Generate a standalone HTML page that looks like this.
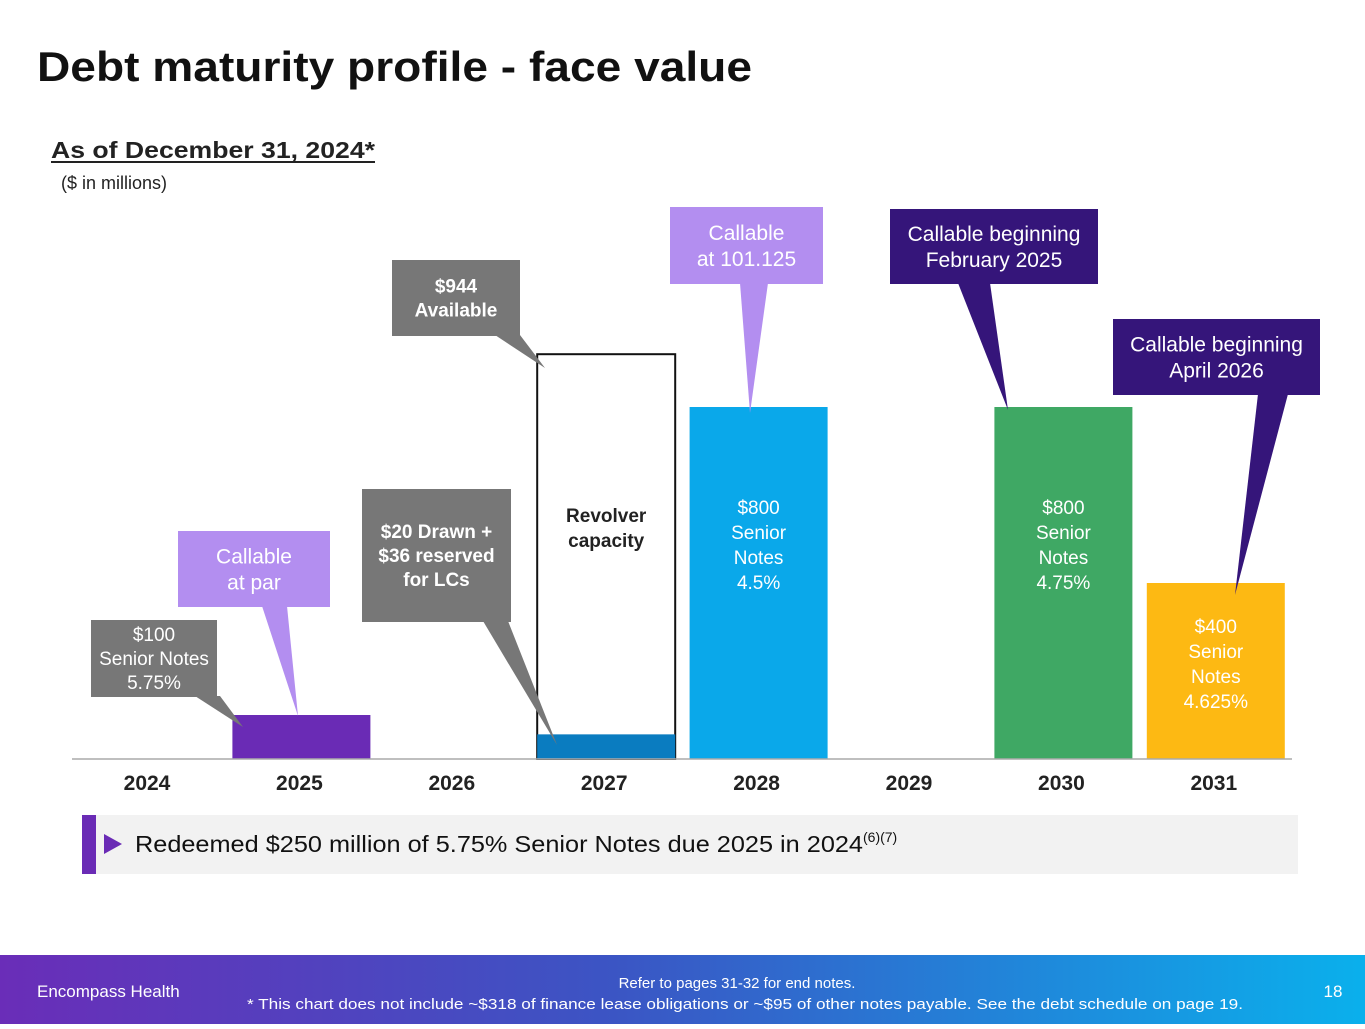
<!DOCTYPE html>
<html><head><meta charset="utf-8"><style>
body{margin:0;width:1365px;height:1024px;overflow:hidden;background:#fff;font-family:"Liberation Sans",sans-serif}
svg text{font-family:"Liberation Sans",sans-serif}
</style></head><body>
<svg width="1365" height="1024" viewBox="0 0 1365 1024">
<defs><linearGradient id="fg" x1="0" x2="1"><stop offset="0" stop-color="#6a2db8"/><stop offset="0.45" stop-color="#3b55c4"/><stop offset="1" stop-color="#0ab0ec"/></linearGradient></defs>
<text x="37" y="81" font-size="42" font-weight="bold" fill="#111" textLength="715" lengthAdjust="spacingAndGlyphs">Debt maturity profile - face value</text>
<text x="51" y="158" font-size="23" font-weight="bold" fill="#222" textLength="324" lengthAdjust="spacingAndGlyphs">As of December 31, 2024*</text>
<line x1="51" y1="162" x2="375" y2="162" stroke="#222" stroke-width="2"/>
<text x="61" y="189" font-size="18" fill="#222">($ in millions)</text>
<g id="chart"></g>
<g id="callouts"></g>
<rect x="82" y="815" width="1216" height="59" fill="#f2f2f2"/>
<rect x="82" y="815" width="14" height="59" fill="#6a2bb5"/>
<polygon points="104,834 104,854 122,844" fill="#6a2bb5"/>
<text x="135" y="852" font-size="23" fill="#111"><tspan textLength="728" lengthAdjust="spacingAndGlyphs">Redeemed $250 million of 5.75% Senior Notes due 2025 in 2024</tspan><tspan font-size="14" dy="-10">(6)(7)</tspan></text>
<rect x="0" y="955" width="1365" height="69" fill="url(#fg)"/>
<text x="37" y="997" font-size="17" fill="#fff">Encompass Health</text>
<text x="737" y="988" font-size="15" fill="#fff" text-anchor="middle">Refer to pages 31-32 for end notes.</text>
<text x="247" y="1009" font-size="15" fill="#fff" textLength="996" lengthAdjust="spacingAndGlyphs">* This chart does not include ~$318 of finance lease obligations or ~$95 of other notes payable. See the debt schedule on page 19.</text>
<text x="1333" y="997" font-size="17" fill="#fff" text-anchor="middle">18</text>
</svg>
<script>
const years=["2024","2025","2026","2027","2028","2029","2030","2031"];
const debtValues=[0,100,0,56,800,0,800,400];
const revolverCapacity=[0,0,0,920,0,0,0,0];
const barColors=["#999","#6a2bb5","#999","#0a7cc0","#0aa8ea","#999","#3fa864","#fdb913"];
const barLabels=[[],[],[],[],["$800","Senior","Notes","4.5%"],[],["$800","Senior","Notes","4.75%"],["$400","Senior","Notes","4.625%"]];
const NS="http://www.w3.org/2000/svg";
const baseY=759, scale=0.44, x0=149, step=152.4, bw=138;
const xc=i=>x0+i*step;
const yv=v=>baseY-v*scale;
const g=document.getElementById('chart');
function el(t,a,p){const e=document.createElementNS(NS,t);for(const k in a)e.setAttribute(k,a[k]);(p||g).appendChild(e);return e;}
years.forEach((y,i)=>{
  if(revolverCapacity[i]>0){
    const r=el('rect',{x:xc(i)-bw/2,y:yv(revolverCapacity[i]),width:bw,height:revolverCapacity[i]*scale,fill:'none',stroke:'#111','stroke-width':2});
    
    
    const t=el('text',{x:xc(i),y:522,'font-size':19,'font-weight':'bold','text-anchor':'middle',fill:'#222'});
    
    
    t.innerHTML='<tspan x="'+xc(i)+'">Revolver</tspan><tspan x="'+xc(i)+'" dy="25">capacity</tspan>';
  }
  if(debtValues[i]>0){
    const b=el('rect',{x:xc(i)-bw/2,y:yv(debtValues[i]),width:bw,height:debtValues[i]*scale,fill:barColors[i]});
    
    
  }
  if(barLabels[i].length){
    const top=yv(debtValues[i]);
    const t=el('text',{'font-size':19,'text-anchor':'middle',fill:'#fff'});
    
    
    const sy=top+107+(debtValues[i]<500?-57:0);
    barLabels[i].forEach((s,j)=>{const ts=el('tspan',{x:xc(i),y:sy+j*25},t);ts.textContent=s;});
  }
  const lt=el('text',{x:xc(i)-2,y:790,'font-size':21,'font-weight':'bold','text-anchor':'middle',fill:'#222'});
  
  
  lt.textContent=y;
});
const ax=el('line',{x1:72,y1:759,x2:1292,y2:759,stroke:'#aaa','stroke-width':1.5});


const cg=document.getElementById('callouts');
const callouts=[
 {n:'callout-100-notes',x:91,y:620,w:126,h:77,c:'#777',tail:[195,220,243,727],lines:['$100','Senior Notes','5.75%'],fc:'#fff',bold:false},
 {n:'callout-callable-par',x:178,y:531,w:152,h:76,c:'#b38ef0',tail:[262,287,298,716],lines:['Callable','at par'],fc:'#fff',bold:false,fs:21},
 {n:'callout-drawn',x:362,y:489,w:149,h:133,c:'#777',tail:[483,508,557,745],lines:['$20 Drawn +','$36 reserved','for LCs'],fc:'#fff',bold:true},
 {n:'callout-available',x:392,y:260,w:128,h:76,c:'#777',tail:[495,520,545,368],lines:['$944','Available'],fc:'#fff',bold:true},
 {n:'callout-101',x:670,y:207,w:153,h:77,c:'#b38ef0',tail:[740,768,750,413],lines:['Callable','at 101.125'],fc:'#fff',bold:false,fs:21},
 {n:'callout-feb-2025',x:890,y:209,w:208,h:75,c:'#35157a',tail:[958,990,1008,410],lines:['Callable beginning','February 2025'],fc:'#fff',bold:false,fs:21},
 {n:'callout-apr-2026',x:1113,y:319,w:207,h:76,c:'#35157a',tail:[1258,1288,1235,595],lines:['Callable beginning','April 2026'],fc:'#fff',bold:false,fs:21}
];
callouts.forEach(o=>{
  const gg=el('g',{},cg);
  
  
  el('rect',{x:o.x,y:o.y,width:o.w,height:o.h,fill:o.c},gg);
  const ty=o.y+o.h;
  el('polygon',{points:`${o.tail[0]},${ty-1} ${o.tail[1]},${ty-1} ${o.tail[2]},${o.tail[3]}`,fill:o.c},gg);
  const fs=o.fs||19, lh=fs+5;
  const t=el('text',{'font-size':fs,'text-anchor':'middle',fill:o.fc,'font-weight':o.bold?'bold':'normal'},gg);
  const start=o.y+o.h/2-(o.lines.length-1)*lh/2+fs*0.35;
  o.lines.forEach((s,j)=>{const ts=el('tspan',{x:o.x+o.w/2,y:start+j*lh},t);ts.textContent=s;});
});
</script>
</body></html>
